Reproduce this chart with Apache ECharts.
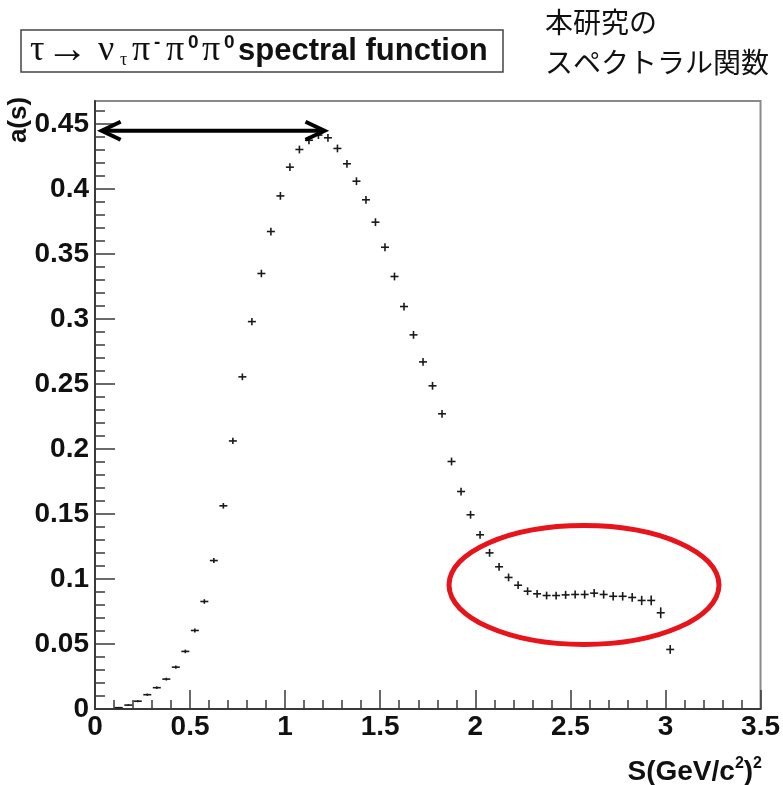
<!DOCTYPE html>
<html><head><meta charset="utf-8">
<script src="https://cdn.jsdelivr.net/npm/echarts@6/dist/echarts.min.js"></script>
<style>html,body{margin:0;padding:0;background:#fff}#c{width:783px;height:785px}</style>
</head><body><div id="c"></div>
<script>
// bin centres s (GeV/c^2)^2
const sValues = [0.125,0.175,0.225,0.275,0.325,0.375,0.425,0.475,0.525,0.575,0.625,
  0.675,0.725,0.775,0.825,0.875,0.925,0.975,1.025,
  1.075,1.125,1.175,1.225,1.275,1.325,1.375,1.425,1.475,1.525,1.575,1.625,1.675,
  1.725,1.775,1.825,1.875,1.925,1.975,2.025,
  2.075,2.125,2.175,2.225,2.275,2.325,2.375,2.425,2.475,2.525,2.575,2.625,2.675,2.725,2.775,2.825,2.875,2.925,2.975,3.025];
// spectral function a(s)
const aValues = [0.001,0.003,0.006,0.011,0.0164,0.023,0.0322,0.0443,0.0604,0.0827,0.1142,
  0.1563,0.2062,0.2555,0.298,0.335,0.3673,0.3947,0.4168,
  0.4304,0.4375,0.4415,0.4394,0.4312,0.4194,0.406,0.3917,0.3745,0.3552,0.3327,0.3096,0.2878,
  0.267,0.2486,0.2271,0.1904,0.1673,0.1494,0.134,
  0.1201,0.1094,0.1012,0.0952,0.0906,0.0886,0.0873,0.0873,0.0878,0.0881,0.0881,0.0891,0.0881,0.0867,0.0867,0.0858,0.0835,0.0835,0.074,0.0458];
// vertical errors (half length)
const aErrors = [0.0002,0.0003,0.0004,0.0005,0.0006,0.0007,0.0008,0.001,0.0012,0.0014,0.0016,
  0.0018,0.002,0.0022,0.0024,0.0025,0.0026,0.0026,0.0026,
  0.0026,0.0026,0.0026,0.0026,0.0026,0.0026,0.0026,0.0026,0.0026,0.0026,0.0026,0.0026,0.0026,
  0.0026,0.0026,0.0026,0.0026,0.0026,0.0026,0.0026,
  0.0026,0.0026,0.0026,0.0026,0.0026,0.0026,0.0026,0.0026,0.0027,0.0027,0.0028,0.0028,0.0028,0.0029,0.0029,0.003,0.0032,0.0034,0.0038,0.003];
const markHalfWidth = 0.021;

const yMajorTicks = [0,0.05,0.1,0.15,0.2,0.25,0.3,0.35,0.4,0.45];
const yMinorTicks = [0.01,0.02,0.03,0.04,0.06,0.07,0.08,0.09,0.11,0.12,0.13,0.14,0.16,0.17,0.18,0.19,
  0.21,0.22,0.23,0.24,0.26,0.27,0.28,0.29,0.31,0.32,0.33,0.34,0.36,0.37,0.38,0.39,0.41,0.42,0.43,0.44,0.46];

// annotation: double arrow (s from, s to, a level)
const arrowData = [[0.035, 1.207, 0.4448]];

const pointData = sValues.map((s,i)=>[s, aValues[i], aErrors[i]]);

const chart = echarts.init(document.getElementById('c'), null, {renderer:'canvas'});
const axisColor = '#3a3a3a';
const labelFont = {fontSize:28, fontWeight:'bold', fontFamily:'Liberation Sans, Arial, sans-serif', color:'#111'};

function renderPoint(params, api){
  const x=api.value(0), y=api.value(1), e=api.value(2);
  const l=api.coord([x-markHalfWidth,y]), r=api.coord([x+markHalfWidth,y]);
  const t=api.coord([x,y+e]), b=api.coord([x,y-e]);
  const st={stroke:'#1a1a1a', lineWidth:1.6};
  return {type:'group', children:[
    {type:'line', shape:{x1:l[0],y1:l[1],x2:r[0],y2:r[1]}, style:st},
    {type:'line', shape:{x1:t[0],y1:t[1]-0.5,x2:b[0],y2:b[1]+0.5}, style:st}
  ]};
}
function renderArrow(params, api){
  const p1=api.coord([api.value(0), api.value(2)]);
  const p2=api.coord([api.value(1), api.value(2)]);
  const st={stroke:'#000', lineWidth:4, fill:null, lineJoin:'miter'};
  const h=19, w=9;
  return {type:'group', children:[
    {type:'line', shape:{x1:p1[0]+2,y1:p1[1],x2:p2[0]-2,y2:p2[1]}, style:st},
    {type:'polyline', shape:{points:[[p1[0]+h,p1[1]-w],[p1[0],p1[1]],[p1[0]+h,p1[1]+w]]}, style:st},
    {type:'polyline', shape:{points:[[p2[0]-h,p2[1]-w],[p2[0],p2[1]],[p2[0]-h,p2[1]+w]]}, style:st}
  ]};
}

const serif = 'Liberation Serif, DejaVu Serif, serif';
const sansB = {fontFamily:'Liberation Sans, sans-serif', fontWeight:'bold', fill:'#111'};

chart.setOption({
  animation:false,
  backgroundColor:'#fff',
  grid:{left:95, top:101, width:667, height:608, show:true, borderColor:'#8a8a8a', borderWidth:2, backgroundColor:'transparent'},
  xAxis:{type:'value', min:0, max:3.5, interval:0.5,
    axisLine:{show:true, onZero:false, lineStyle:{color:axisColor, width:2}},
    axisTick:{show:true, inside:true, length:19, lineStyle:{color:axisColor, width:1.5}},
    minorTick:{show:true, splitNumber:5, length:9, lineStyle:{color:axisColor, width:1.5}},
    splitLine:{show:false}, minorSplitLine:{show:false},
    axisLabel:Object.assign({margin:4}, labelFont)
  },
  yAxis:[
    {type:'value', min:0, max:0.4677, interval:0.05, position:'left',
      axisLine:{show:true, onZero:false, lineStyle:{color:axisColor, width:2}},
      axisTick:{show:true, inside:true, length:20, customValues:yMajorTicks, lineStyle:{color:axisColor, width:1.5}},
      splitLine:{show:false},
      axisLabel:Object.assign({margin:6, customValues:yMajorTicks}, labelFont)
    },
    {type:'value', min:0, max:0.4677, position:'left', offset:0,
      axisLine:{show:false},
      axisTick:{show:true, inside:true, length:10, customValues:yMinorTicks, lineStyle:{color:axisColor, width:1.5}},
      splitLine:{show:false},
      axisLabel:{show:false}
    }
  ],
  series:[
    {type:'custom', name:'a(s)', renderItem:renderPoint, data:pointData, encode:{x:0, y:1}, xAxisIndex:0, yAxisIndex:0, z:5},
    {type:'custom', name:'arrow', renderItem:renderArrow, data:arrowData, encode:{x:[0,1], y:2}, xAxisIndex:0, yAxisIndex:0, z:6, silent:true}
  ],
  graphic:[
    {type:'rect', shape:{x:21, y:30, width:482, height:42}, style:{fill:'#fff', stroke:'#444', lineWidth:1.5}, z:10},
    {type:'text', x:30, y:51, z:11, style:{
      text:'{t|τ}{ar|→}{sp0| }{n|ν}{sb|τ}{n|π}{su1|-}{n|π}{su|0}{n|π}{su|0}{b|spectral function}',
      verticalAlign:'middle', align:'left',
      rich:{
        t:{fontFamily:serif, fontSize:36, fill:'#111', lineHeight:36, width:16},
        ar:{fontFamily:serif, fontSize:42, fill:'#111', lineHeight:36, width:40},
        sp0:{fontFamily:serif, fontSize:34, fill:'#111', lineHeight:36, width:12},
        n:{fontFamily:serif, fontSize:36, fill:'#111', lineHeight:36, width:22},
        sb:{fontFamily:serif, fontSize:18, fill:'#111', verticalAlign:'bottom', lineHeight:36, width:12, padding:[14,0,0,0]},
        su1:Object.assign({fontSize:19, verticalAlign:'top', lineHeight:36, width:12, padding:[0,0,10,0]}, sansB),
        su:Object.assign({fontSize:19, verticalAlign:'top', lineHeight:36, width:14, padding:[0,0,10,0]}, sansB),
        b:Object.assign({fontSize:31, lineHeight:36}, sansB)
      }}},
    {type:'text', x:545, y:22, z:11, style:{text:'本研究の', fontFamily:'Noto Sans CJK JP', fontSize:28, fill:'#111', verticalAlign:'middle'}},
    {type:'text', x:545, y:62, z:11, style:{text:'スペクトラル関数', fontFamily:'Noto Sans CJK JP', fontSize:28, fill:'#111', verticalAlign:'middle'}},
    {type:'text', x:19, y:120, rotation:Math.PI/2, z:11, style:{text:'a(s)', fontFamily:'Liberation Sans, sans-serif', fontWeight:'bold', fontSize:26, fill:'#111', align:'center', verticalAlign:'middle'}},
    {type:'text', x:762, y:772, z:11, style:{
      text:'{t|S(GeV/c}{u|2}{t|)}{u|2}', align:'right', verticalAlign:'middle',
      rich:{
        t:Object.assign({fontSize:28, lineHeight:32}, sansB),
        u:Object.assign({fontSize:16, verticalAlign:'top', lineHeight:32}, sansB)
      }}},
    {type:'ellipse', shape:{cx:584, cy:585, rx:135, ry:59.5}, style:{fill:'transparent', stroke:'#e8141c', lineWidth:5}, z:12}
  ]
});
</script>
</body></html>
